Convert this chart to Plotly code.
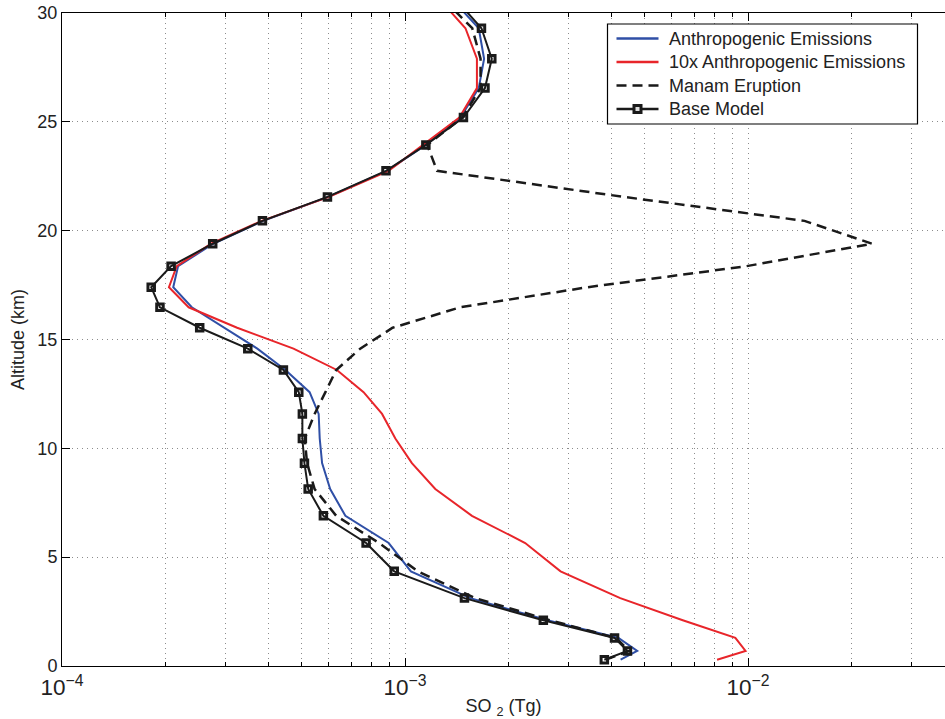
import plotly.graph_objects as go

# Altitude levels (km)
altitude = [0.29, 0.69, 1.29, 2.10, 3.12, 4.35, 5.65, 6.90, 8.13, 9.32, 10.45, 11.58,
            12.58, 13.60, 14.58, 15.54, 16.48, 17.40, 18.37, 19.40, 20.45, 21.55,
            22.75, 23.94, 25.20, 26.55, 27.90, 29.30, 30.60]

# SO2 (Tg), values in units of 1e-3 Tg
anthro_e3 = [4.25, 4.75, 4.19, 2.60, 1.55, 1.04, 0.896, 0.670, 0.605, 0.573, 0.564, 0.560,
             0.527, 0.448, 0.371, 0.298, 0.239, 0.211, 0.218, 0.276, 0.386, 0.597,
             0.885, 1.15, 1.45, 1.64, 1.70, 1.64, 1.376]
anthro10_e3 = [8.12, 9.83, 9.18, 6.45, 4.24, 2.84, 2.24, 1.567, 1.225, 1.047, 0.937, 0.857,
               0.757, 0.633, 0.473, 0.324, 0.234, 0.205, 0.216, 0.272, 0.382, 0.600,
               0.895, 1.13, 1.44, 1.62, 1.62, 1.50, 1.265]
manam_e3 = [3.85, 4.50, 4.12, 2.65, 1.60, 1.09, 0.84, 0.63, 0.545, 0.518, 0.510, 0.545,
            0.586, 0.630, 0.74, 0.92, 1.45, 3.4, 9.9, 23.0, 14.6, 4.35,
            1.24, 1.16, 1.47, 1.66, 1.66, 1.57, 1.30]
base_e3 = [3.81, 4.45, 4.08, 2.53, 1.49, 0.93, 0.77, 0.578, 0.522, 0.509, 0.502, 0.502,
           0.490, 0.442, 0.348, 0.252, 0.193, 0.182, 0.208, 0.275, 0.384, 0.594,
           0.880, 1.15, 1.48, 1.71, 1.79, 1.67, 1.41]

names = ["Anthropogenic Emissions", "10x Anthropogenic Emissions", "Manam Eruption", "Base Model"]


def tg(v):
    return [x * 1e-3 for x in v]


FONT = "Liberation Sans, Arial, Helvetica, sans-serif"
TXT = "#222222"
BLUE = "#2f4fa6"
RED = "#e8252a"
BLACK = "#1a1a1a"
DASH = "10px,6px"

fig = go.Figure()
fig.add_trace(go.Scatter(x=tg(anthro_e3), y=altitude, mode="lines", name=names[0],
                         line=dict(color=BLUE, width=2)))
fig.add_trace(go.Scatter(x=tg(anthro10_e3), y=altitude, mode="lines", name=names[1],
                         line=dict(color=RED, width=2)))
fig.add_trace(go.Scatter(x=tg(manam_e3), y=altitude, mode="lines", name=names[2],
                         line=dict(color=BLACK, width=2.5, dash=DASH)))
fig.add_trace(go.Scatter(x=tg(base_e3), y=altitude, mode="lines+markers", name=names[3],
                         line=dict(color=BLACK, width=2),
                         marker=dict(symbol="square-open", size=6.5, color=BLACK,
                                     line=dict(width=3, color=BLACK))))

GRID = "#8c8c8c"
fig.update_xaxes(type="log", range=[-4, -1.426], dtick=1, exponentformat="power",
                 showexponent="all",
                 ticks="inside", ticklen=8, tickcolor="black", tickwidth=1,
                 showline=True, linecolor="black", linewidth=1, mirror="ticks",
                 minor=dict(dtick="D1", ticks="inside", ticklen=4, tickcolor="black",
                            showgrid=True, gridcolor=GRID, griddash="1px,4px"),
                 tickfont=dict(size=18, color=TXT), ticklabelstandoff=2,
                 title=dict(text="SO <sub>2</sub> (Tg)", font=dict(size=18, color=TXT), standoff=4),
                 zeroline=False, showgrid=True, gridcolor=GRID, griddash="1px,4px")
fig.update_yaxes(range=[0, 30], dtick=5, ticks="inside", ticklen=8, tickcolor="black",
                 showline=True, linecolor="black", linewidth=1, mirror=False,
                 tickfont=dict(size=18, color=TXT), ticklabeloverflow="allow",
                 title=dict(text="Altitude (km)", font=dict(size=18, color=TXT), standoff=8),
                 zeroline=False, showgrid=True, gridcolor=GRID, griddash="1px,4px")

# ---- manual legend (page-pixel layout converted to paper coords) ----
PL, PR, PT, PB = 62.0, 945.0, 13.0, 666.0


def px(x):
    return (x - PL) / (PR - PL)


def py(y):
    return (PB - y) / (PB - PT)


shapes = [dict(type="rect", xref="paper", yref="paper",
               x0=px(607.5), x1=px(917.5), y0=py(124), y1=py(24),
               line=dict(color="black", width=1.2), fillcolor="white", layer="above")]
rows = [38.5, 62.0, 85.5, 109.0]
styles = [dict(color=BLUE, width=2.5), dict(color=RED, width=2.5),
          dict(color=BLACK, width=2.5, dash=DASH), dict(color=BLACK, width=2.5)]
annotations = []
for name, ry, st in zip(names, rows, styles):
    shapes.append(dict(type="line", xref="paper", yref="paper",
                       x0=px(616.5), x1=px(658.5), y0=py(ry), y1=py(ry),
                       line=st, layer="above"))
    annotations.append(dict(text=name, xref="paper", yref="paper", x=px(666.5), y=py(ry),
                            xanchor="left", yanchor="middle", showarrow=False,
                            font=dict(size=18, color=TXT, family=FONT)))
# square marker for Base Model sample
shapes.append(dict(type="rect", xref="paper", yref="paper",
                   x0=px(634), x1=px(641), y0=py(rows[3] + 3.5), y1=py(rows[3] - 3.5),
                   line=dict(color=BLACK, width=3), fillcolor="#dddddd", layer="above"))

fig.update_layout(
    width=945, height=719,
    margin=dict(l=62, r=0, t=13, b=53, autoexpand=False),
    plot_bgcolor="white", paper_bgcolor="white",
    font=dict(family=FONT, size=18, color=TXT),
    showlegend=False,
    shapes=shapes,
    annotations=annotations,
)

fig.write_html("out.html", config={"displayModeBar": False},
               post_script="document.body.style.margin='0px';")
